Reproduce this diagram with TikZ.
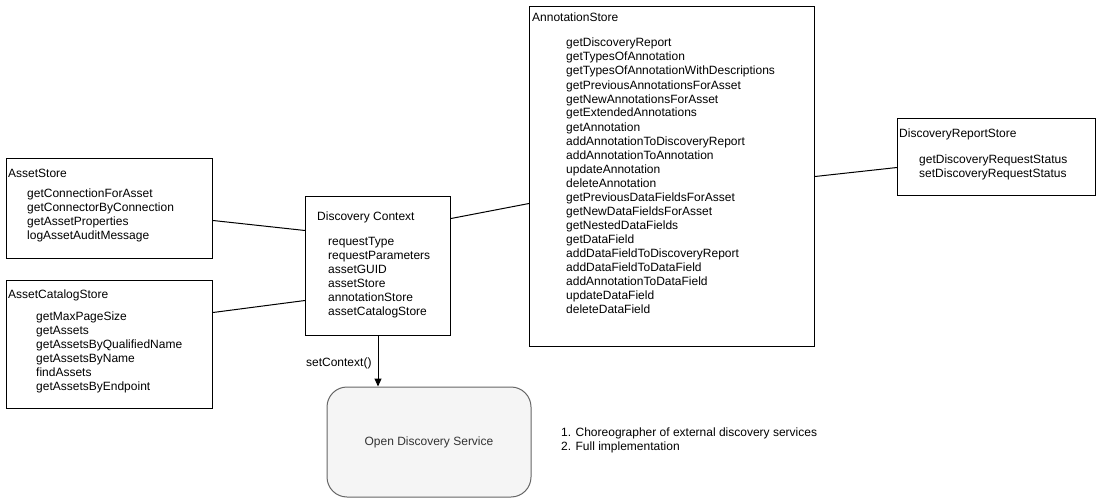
\documentclass[tikz,border=0pt]{standalone}
\usepackage{fontspec}
\setmainfont{Liberation Sans}
\usetikzlibrary{arrows.meta,calc}
\definecolor{odsfill}{HTML}{F5F5F5}
\definecolor{odsline}{HTML}{666666}
\definecolor{odstext}{HTML}{333333}
\begin{document}
\begin{tikzpicture}[x=1pt,y=-1pt,
  box/.style={draw=black,line width=1pt,inner sep=0,anchor=north west},
  txt/.style={inner sep=0,anchor=base west,font=\fontsize{12}{14}\selectfont},
  link/.style={draw=black,line width=1pt},
]
\useasboundingbox (0,0) rectangle (1101,503);
% boxes
\node[box,minimum width=206pt,minimum height=100pt] (as) at (6,158) {};
\node[box,minimum width=206pt,minimum height=128pt] (acs) at (6,280) {};
\node[box,minimum width=145pt,minimum height=139pt] (dc) at (305,196) {};
\node[box,minimum width=285pt,minimum height=340pt] (ans) at (529,6) {};
\node[box,minimum width=198pt,minimum height=77pt] (drs) at (897,118) {};
\node[draw=odsline,fill=odsfill,line width=1pt,rounded corners=20pt,minimum width=204pt,minimum height=110pt,inner sep=0,
  font=\fontsize{12}{14}\selectfont,text=odstext] (ods) at (429,442) {Open Discovery Service};
% AssetStore
\node[txt] (as-t) at (8,177) {AssetStore};
\foreach \s [count=\i from 0] in {getConnectionForAsset,getConnectorByConnection,getAssetProperties,logAssetAuditMessage}
  \node[txt] (as-\i) at (27,197+14*\i) {\s};
% AssetCatalogStore
\node[txt] (acs-t) at (8,298) {AssetCatalogStore};
\foreach \s [count=\i from 0] in {getMaxPageSize,getAssets,getAssetsByQualifiedName,getAssetsByName,findAssets,getAssetsByEndpoint}
  \node[txt] (acs-\i) at (36,320+14*\i) {\s};
% Discovery Context
\node[txt] (dc-t) at (317,220) {Discovery Context};
\foreach \s [count=\i from 0] in {requestType,requestParameters,assetGUID,assetStore,annotationStore,assetCatalogStore}
  \node[txt] (dc-\i) at (328,245+14*\i) {\s};
% AnnotationStore
\node[txt] (ans-t) at (532,22) {AnnotationStore};
\foreach \s [count=\i from 0] in {getDiscoveryReport,getTypesOfAnnotation,getTypesOfAnnotationWithDescriptions,getPreviousAnnotationsForAsset,getNewAnnotationsForAsset,getExtendedAnnotations,getAnnotation,addAnnotationToDiscoveryReport,addAnnotationToAnnotation,updateAnnotation,deleteAnnotation,getPreviousDataFieldsForAsset,getNewDataFieldsForAsset,getNestedDataFields,getDataField,addDataFieldToDiscoveryReport,addDataFieldToDataField,addAnnotationToDataField,updateDataField,deleteDataField}
  \node[txt] (ans-\i) at (566,47+14*\i) {\s};
% DiscoveryReportStore
\node[txt] (drs-t) at (899,137) {DiscoveryReportStore};
\foreach \s [count=\i from 0] in {getDiscoveryRequestStatus,setDiscoveryRequestStatus}
  \node[txt] (drs-\i) at (919,163+14*\i) {\s};
% notes
\node[txt] (n1) at (561,436) {1. Choreographer of external discovery services};
\node[txt] (n2) at (561,450) {2. Full implementation};
% connectors
\draw[link] ([yshift=-12pt]as.east) -- ([yshift=35.5pt]dc.west);
\draw[link] ([yshift=32pt]acs.east) -- ([yshift=-34.5pt]dc.west);
\draw[link] ([yshift=47.5pt]dc.east) -- ([yshift=-27pt]ans.west);
\draw[link] (ans.east) -- ([yshift=-10.5pt]drs.west);
\draw[link,-{Triangle[length=8pt,width=7pt]}] (dc.south) -- (dc.south |- ods.north)
  node[txt,anchor=base east,pos=0.55,xshift=-6pt,yshift=-3pt] (sc) {setContext()};
\end{tikzpicture}
\end{document}
